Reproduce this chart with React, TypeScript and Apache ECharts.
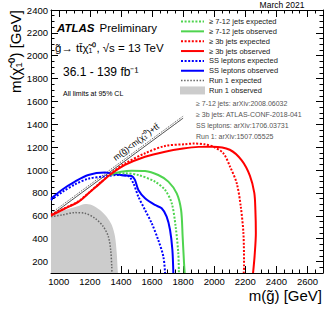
import React, { useEffect, useRef } from "react";
import * as echarts from "echarts";

const xMajorTicks = [1000, 1200, 1400, 1600, 1800, 2000, 2200, 2400, 2600];
const yMajorTicks = [200, 400, 600, 800, 1000, 1200, 1400, 1600, 1800, 2000, 2200, 2400];

const greenExpected = [
  [1340, 960], [1426, 972], [1512, 957], [1619, 899], [1684, 826], [1727, 710],
  [1752, 505], [1769, 272], [1773, 100],
];
const greenObserved = [
  [1330, 962], [1400, 985], [1469, 995], [1555, 992], [1640, 957], [1705, 899],
  [1759, 797], [1787, 651], [1797, 418], [1806, 185], [1810, 100],
];
const redExpected = [
  [950, 612], [1040, 668], [1126, 726], [1190, 798], [1276, 900], [1341, 976],
  [1426, 1058], [1555, 1147], [1684, 1211], [1812, 1226], [1870, 1232], [1940, 1225],
  [1994, 1205], [2059, 1147], [2102, 1030], [2145, 885], [2171, 680], [2188, 447],
  [2192, 155], [2190, 100],
];
const redObserved = [
  [950, 602], [1040, 664], [1126, 722], [1190, 795], [1276, 897], [1341, 970],
  [1426, 1045], [1555, 1117], [1684, 1161], [1800, 1188], [1900, 1203], [1990, 1205],
  [2100, 1178], [2177, 1085], [2230, 950], [2258, 800], [2265, 650], [2268, 450],
  [2260, 250], [2250, 100],
];
const blueExpected = [
  [950, 738], [1019, 805], [1104, 875], [1190, 925], [1297, 945], [1383, 957],
  [1447, 949], [1480, 885], [1512, 768], [1555, 651], [1598, 535], [1640, 389],
  [1673, 243], [1684, 100],
];
const blueObserved = [
  [950, 750], [1019, 826], [1104, 899], [1190, 957], [1297, 978], [1350, 968],
  [1405, 955], [1469, 949], [1490, 914], [1512, 826], [1555, 754], [1619, 695],
  [1662, 666], [1694, 593], [1716, 476], [1731, 301], [1737, 100],
];
const run1Expected = [
  [950, 593], [1019, 607], [1104, 628], [1169, 622], [1233, 579], [1287, 505],
  [1319, 418], [1334, 301], [1341, 155], [1342, 100],
];
const run1Observed = [
  [950, 607], [1040, 651], [1126, 686], [1169, 704], [1212, 695], [1265, 651],
  [1308, 593], [1341, 520], [1362, 418], [1373, 272], [1379, 126], [1381, 100],
];
const kinematicLine = [[950, 604], [1800, 1454]];
const kinematicHatch = [[950, 622], [1800, 1472]];

const legendLabels = [
  "≥ 7-12 jets expected",
  "≥ 7-12 jets observed",
  "≥ 3b jets expected",
  "≥ 3b jets observed",
  "SS leptons expected",
  "SS leptons observed",
  "Run 1 expected",
  "Run 1 observed",
];
const references = [
  "≥ 7-12 jets: arXiv:2008.06032",
  "≥ 3b jets: ATLAS-CONF-2018-041",
  "SS leptons: arXiv:1706.03731",
  "Run 1: arXiv:1507.05525",
];

const GREEN = "#4fd44f";
const RED = "#ff0000";
const BLUE = "#0000ff";
const GREY = "#666666";
const FILL = "#cccccc";
const FONT = "Liberation Sans";

const legendStyles = [
  { color: GREEN, dash: [2, 1.6] },
  { color: GREEN, dash: null },
  { color: RED, dash: [2, 1.6] },
  { color: RED, dash: null },
  { color: BLUE, dash: [2, 1.6] },
  { color: BLUE, dash: null },
  { color: GREY, dash: [1.5, 1.6] },
  { color: FILL, dash: null, box: true },
];

export default function App() {
  const ref = useRef<HTMLDivElement>(null);
  useEffect(() => {
    const chart = echarts.init(ref.current as HTMLDivElement, null, { renderer: "svg" });

    const baseX = { type: "value", min: 950, max: 2700, gridIndex: 0, splitLine: { show: false } };
    const baseY = { type: "value", min: 100, max: 2400, gridIndex: 0, splitLine: { show: false } };
    const lineBlack = { show: true, lineStyle: { color: "#000", width: 1 } };

    const xAxis = [
      {
        ...baseX, position: "bottom", interval: 50, axisLine: lineBlack,
        axisTick: { show: true, inside: true, length: 3.5, lineStyle: { color: "#000" } },
        axisLabel: {
          show: true, color: "#000", fontSize: 9.5, fontFamily: FONT, margin: 3,
          formatter: (v: number) => (xMajorTicks.includes(v) ? String(v) : ""),
        },
      },
      {
        ...baseX, position: "bottom", axisLine: { show: false },
        axisTick: { show: true, inside: true, length: 7, customValues: xMajorTicks, lineStyle: { color: "#000" } },
        axisLabel: { show: false, customValues: xMajorTicks },
      },
      {
        ...baseX, position: "top", interval: 50, axisLine: lineBlack,
        axisTick: { show: true, inside: true, length: 3.5, lineStyle: { color: "#000" } },
        axisLabel: { show: false },
      },
      {
        ...baseX, position: "top", axisLine: { show: false },
        axisTick: { show: true, inside: true, length: 7, customValues: xMajorTicks, lineStyle: { color: "#000" } },
        axisLabel: { show: false, customValues: xMajorTicks },
      },
    ];
    const yAxis = [
      {
        ...baseY, position: "left", interval: 50, axisLine: lineBlack,
        axisTick: { show: true, inside: true, length: 3.5, lineStyle: { color: "#000" } },
        axisLabel: {
          show: true, color: "#000", fontSize: 9.5, fontFamily: FONT, margin: 3,
          formatter: (v: number) => (yMajorTicks.includes(v) ? String(v) : ""),
        },
      },
      {
        ...baseY, position: "left", axisLine: { show: false },
        axisTick: { show: true, inside: true, length: 7, customValues: yMajorTicks, lineStyle: { color: "#000" } },
        axisLabel: { show: false, customValues: yMajorTicks },
      },
      {
        ...baseY, position: "right", interval: 50, axisLine: lineBlack,
        axisTick: { show: true, inside: true, length: 3.5, lineStyle: { color: "#000" } },
        axisLabel: { show: false },
      },
      {
        ...baseY, position: "right", axisLine: { show: false },
        axisTick: { show: true, inside: true, length: 7, customValues: yMajorTicks, lineStyle: { color: "#000" } },
        axisLabel: { show: false, customValues: yMajorTicks },
      },
    ];

    const mkLine = (data: number[][], color: string, dash: number[] | null, z: number, width = 2) => ({
      type: "line",
      data,
      xAxisIndex: 0,
      yAxisIndex: 0,
      symbol: "none",
      showSymbol: false,
      smooth: 0.3,
      z,
      lineStyle: { color, width, type: dash ? dash : "solid", cap: "butt" },
    });

    const series: any[] = [
      {
        type: "line", data: run1Observed, xAxisIndex: 0, yAxisIndex: 0, symbol: "none",
        smooth: 0.3, z: 1, lineStyle: { width: 0 },
        areaStyle: { color: FILL, opacity: 1, origin: "start" },
      },
      mkLine(run1Expected, GREY, [1.5, 1.6], 2, 1.5),
      mkLine(kinematicLine, "#000", null, 3, 0.7),
      mkLine(kinematicHatch, "#444", [1, 1.2], 3, 1),
      mkLine(blueExpected, BLUE, [2, 1.6], 4),
      mkLine(blueObserved, BLUE, null, 5),
      mkLine(greenExpected, GREEN, [2, 1.6], 4),
      mkLine(greenObserved, GREEN, null, 5),
      mkLine(redExpected, RED, [2, 1.6], 6),
      mkLine(redObserved, RED, null, 6),
    ];

    const graphic: any[] = [];
    legendLabels.forEach((label, i) => {
      const y = 21.5 + i * 9.85;
      const st = legendStyles[i];
      if (st.box) {
        graphic.push({ type: "rect", shape: { x: 180, y: y - 4, width: 25, height: 8 }, style: { fill: st.color } });
      } else {
        graphic.push({
          type: "line",
          shape: { x1: 181, y1: y, x2: 204, y2: y },
          style: { stroke: st.color, lineWidth: st.color === GREY ? 1.5 : 2, lineDash: st.dash || undefined },
        });
      }
      graphic.push({
        type: "text", x: 209, y,
        style: { text: label, fontSize: 7.5, fontFamily: FONT, fill: "#222", verticalAlign: "middle", align: "left" },
      });
    });
    references.forEach((r, i) => {
      graphic.push({
        type: "text", x: 196, y: 103.5 + i * 11.1,
        style: { text: r, fontSize: 7, fontFamily: FONT, fill: "#555", verticalAlign: "middle", align: "left" },
      });
    });
    graphic.push(
      { type: "text", x: 304.5, y: 5, style: { text: "March 2021", fontSize: 8.5, fontFamily: FONT, fill: "#000", align: "right", verticalAlign: "middle" } },
      { type: "text", x: 57, y: 28, style: { text: "ATLAS", fontSize: 11.5, fontWeight: "bold", fontStyle: "italic", fontFamily: FONT, fill: "#000", verticalAlign: "middle" } },
      { type: "text", x: 99.5, y: 28, style: { text: "Preliminary", fontSize: 11.5, fontFamily: FONT, fill: "#000", verticalAlign: "middle" } },
      { type: "text", x: 55, y: 48, style: { text: "g\u0303\u2192 tt\u0304\u03C7\u0303\u2081\u2070, \u221As = 13 TeV", fontSize: 11.5, fontFamily: FONT, fill: "#000", verticalAlign: "middle" } },
      { type: "text", x: 63, y: 72, style: { text: "36.1 - 139 fb\u207B\u00B9", fontSize: 12, fontFamily: FONT, fill: "#000", verticalAlign: "middle" } },
      { type: "text", x: 63, y: 93, style: { text: "All limits at 95% CL", fontSize: 7, fontFamily: FONT, fill: "#000", verticalAlign: "middle" } },
      {
        type: "text", x: 136, y: 142, rotation: (37 * Math.PI) / 180,
        style: { text: "m(g\u0303)<m(\u03C7\u0303\u2081\u2070)+tt\u0304", fontSize: 8.5, fontFamily: FONT, fill: "#000", align: "center", verticalAlign: "middle" },
      },
      {
        type: "text", x: 15, y: 10, rotation: Math.PI / 2,
        style: { text: "m(\u03C7\u0303\u2081\u2070) [GeV]", fontSize: 15, fontFamily: FONT, fill: "#000", align: "right", verticalAlign: "middle" },
      },
      {
        type: "text", x: 322, y: 295,
        style: { text: "m(g\u0303) [GeV]", fontSize: 15, fontFamily: FONT, fill: "#000", align: "right", verticalAlign: "middle" },
      },
    );

    chart.setOption({
      animation: false,
      backgroundColor: "#fff",
      textStyle: { fontFamily: FONT },
      grid: { left: 51, top: 10, width: 272, height: 263, containLabel: false },
      xAxis,
      yAxis,
      series,
      graphic,
    });
    return () => chart.dispose();
  }, []);
  return <div ref={ref} style={{ position: "absolute", left: 0, top: 0, width: 332, height: 320 }} />;
}
